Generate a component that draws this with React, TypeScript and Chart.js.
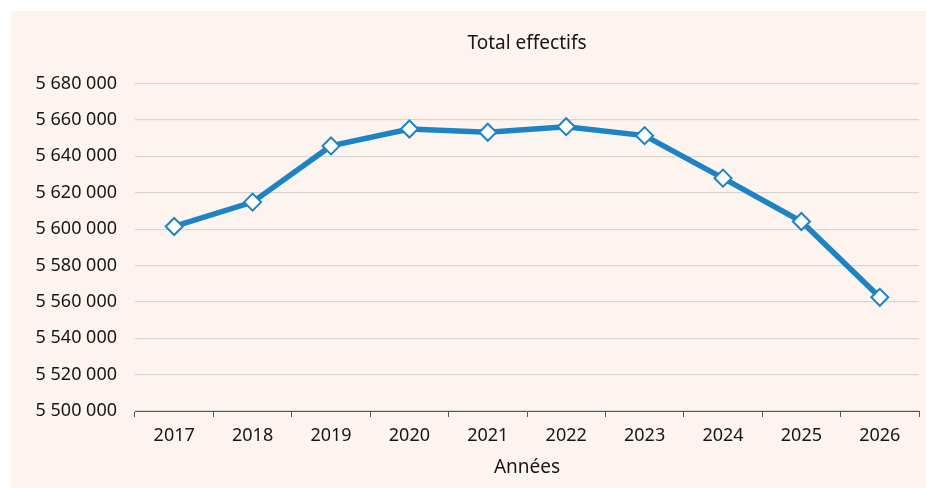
import { useEffect, useRef } from "react";
import { Chart, registerables } from "chart.js";

Chart.register(...registerables);

const categories = ["2017", "2018", "2019", "2020", "2021", "2022", "2023", "2024", "2025", "2026"];
const totalEffectifs = [5601450, 5614840, 5645730, 5655060, 5653250, 5656320, 5651390, 5628010, 5604200, 5562500];
const yMin = 5500000;
const yMax = 5680000;
const yStep = 20000;

const chartTitle = "Total effectifs";
const xTitle = "Années";

const FONT = "'Noto Sans', sans-serif";
const TEXT = "#161616";

function fmt(v: number): string {
  return Math.round(v).toString().replace(/\B(?=(\d{3})+(?!\d))/g, " ");
}

export default function App() {
  const ref = useRef<HTMLCanvasElement | null>(null);
  useEffect(() => {
    if (!ref.current) return;
    const chart = new Chart(ref.current, {
      type: "line",
      data: {
        labels: categories,
        datasets: [
          {
            label: chartTitle,
            data: totalEffectifs,
            borderColor: "#1c84c4",
            borderWidth: 5.5,
            pointStyle: "rectRot",
            pointRadius: 8.5,
            pointBorderWidth: 2,
            pointBackgroundColor: "#ffffff",
            pointBorderColor: "#1c84c4",
            tension: 0,
          },
        ],
      },
      options: {
        responsive: false,
        animation: false,
        layout: { autoPadding: false, padding: { left: 0, right: 7, top: 0, bottom: 0 } },
        plugins: {
          legend: { display: false },
          tooltip: { enabled: false },
          title: {
            display: true,
            text: chartTitle,
            fullSize: false,
            color: TEXT,
            font: { family: FONT, size: 19, weight: "normal" },
            padding: { top: 21.6, bottom: 28.2 },
          },
        },
        scales: {
          x: {
            type: "category",
            offset: true,
            grid: {
              offset: true,
              drawOnChartArea: false,
              drawTicks: true,
              tickLength: 6,
              color: "#555555",
            },
            border: { display: true, color: "#555555", width: 1 },
            ticks: { padding: 8, color: TEXT, font: { family: FONT, size: 18 } },
            title: {
              display: true,
              text: xTitle,
              color: TEXT,
              font: { family: FONT, size: 19 },
              padding: { top: 4, bottom: 8.6 },
            },
            afterFit: (s: any) => {
              s.height = 77;
              s.paddingLeft = 0;
              s.paddingRight = 0;
            },
          },
          y: {
            min: yMin,
            max: yMax,
            ticks: {
              stepSize: yStep,
              padding: 18,
              color: TEXT,
              font: { family: FONT, size: 18 },
              callback: (v: any) => fmt(Number(v)),
            },
            grid: { color: "#d9d5d1", drawTicks: false, lineWidth: 1.2 },
            border: { display: false },
            afterFit: (s: any) => {
              s.width = 124;
              s.paddingTop = 0;
              s.paddingBottom = 0;
            },
          },
        },
      },
    });
    return () => chart.destroy();
  }, []);
  return (
    <div
      style={{
        position: "absolute",
        left: 11,
        top: 11,
        width: 915,
        height: 477,
        background: "#fef4ef",
      }}
    >
      <canvas ref={ref} width={915} height={477} style={{ display: "block" }} />
    </div>
  );
}
